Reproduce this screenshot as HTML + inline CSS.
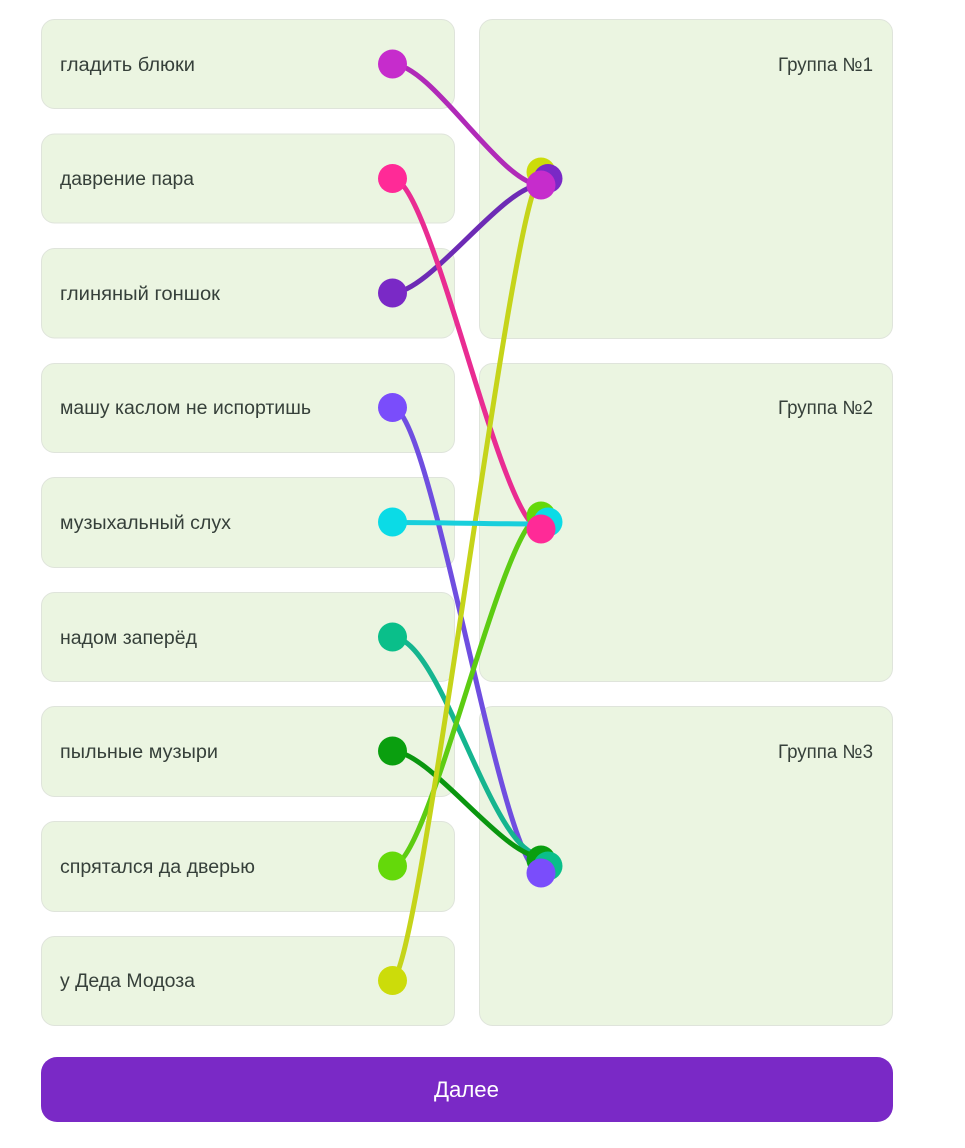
<!DOCTYPE html>
<html>
<head>
<meta charset="utf-8">
<style>
html,body{margin:0;padding:0;background:#fff}
svg{display:block}
text{font-family:"Liberation Sans",sans-serif;font-size:19px;fill:#36403a}
.b{fill:#ebf5e1;stroke:#dfe4db;stroke-width:1}
.l{fill:none;stroke-width:5}
</style>
</head>
<body>
<svg width="965" height="1148" viewBox="0 0 965 1148" xmlns="http://www.w3.org/2000/svg">
<rect class="b" x="41.500" y="19.500" width="413" height="89" rx="13"/>
<rect class="b" x="41.500" y="134" width="413" height="89" rx="13"/>
<rect class="b" x="41.500" y="248.500" width="413" height="89.500" rx="13"/>
<rect class="b" x="41.500" y="363.500" width="413" height="89" rx="13"/>
<rect class="b" x="41.500" y="477.500" width="413" height="90" rx="13"/>
<rect class="b" x="41.500" y="592.500" width="413" height="89" rx="13"/>
<rect class="b" x="41.500" y="706.500" width="413" height="90" rx="13"/>
<rect class="b" x="41.500" y="821.500" width="413" height="90" rx="13"/>
<rect class="b" x="41.500" y="936.500" width="413" height="89" rx="13"/>
<rect class="b" x="479.500" y="19.500" width="413" height="319" rx="13"/>
<rect class="b" x="479.500" y="363.500" width="413" height="318" rx="13"/>
<rect class="b" x="479.500" y="706.500" width="413" height="319" rx="13"/>
<text x="60" y="71" textLength="135" lengthAdjust="spacingAndGlyphs">гладить блюки</text>
<text x="60" y="185" textLength="134" lengthAdjust="spacingAndGlyphs">даврение пара</text>
<text x="60" y="300" textLength="160" lengthAdjust="spacingAndGlyphs">глиняный гоншок</text>
<text x="60" y="414" textLength="251" lengthAdjust="spacingAndGlyphs">машу каслом не испортишь</text>
<text x="60" y="529" textLength="171" lengthAdjust="spacingAndGlyphs">музыхальный слух</text>
<text x="60" y="644" textLength="137" lengthAdjust="spacingAndGlyphs">надом заперёд</text>
<text x="60" y="758" textLength="158" lengthAdjust="spacingAndGlyphs">пыльные музыри</text>
<text x="60" y="873" textLength="195" lengthAdjust="spacingAndGlyphs">спрятался да дверью</text>
<text x="60" y="987" textLength="135" lengthAdjust="spacingAndGlyphs">у Деда Модоза</text>
<text x="778" y="71" textLength="95" lengthAdjust="spacingAndGlyphs">Группа №1</text>
<text x="778" y="414" textLength="95" lengthAdjust="spacingAndGlyphs">Группа №2</text>
<text x="778" y="758" textLength="95" lengthAdjust="spacingAndGlyphs">Группа №3</text>
<path class="l" stroke="#6f4ee0" d="M392 407C432 407 501 873 541 873"/>
<path class="l" stroke="#15b58f" d="M392 637C442 637 491 855 541 855"/>
<path class="l" stroke="#0a960f" d="M392 751C430 751 503 857 541 857"/>
<path class="l" stroke="#5dcc12" d="M392 866C430 866 503 516 541 516"/>
<path class="l" stroke="#6d2bb5" d="M392 293C430 293 503 185 541 185"/>
<path class="l" stroke="#e92c92" d="M392 178C432 178 501 529 541 529"/>
<path class="l" stroke="#b02ab8" d="M392 64C432 64 501 185 541 185"/>
<path class="l" stroke="#c5d41a" d="M392 980C420 980 513 178 541 178"/>
<path class="l" stroke="#18cfdc" d="M392 522.500C442 522.500 491 524 541 524"/>
<circle cx="392.500" cy="64" r="14.500" fill="#c62ccc"/>
<circle cx="392.500" cy="178.500" r="14.500" fill="#ff2a97"/>
<circle cx="392.500" cy="293" r="14.500" fill="#7a29c6"/>
<circle cx="392.500" cy="407.500" r="14.500" fill="#7a4dfb"/>
<circle cx="392.500" cy="522" r="14.500" fill="#0bdbe6"/>
<circle cx="392.500" cy="637" r="14.500" fill="#0abf8a"/>
<circle cx="392.500" cy="751" r="14.500" fill="#0a9f0f"/>
<circle cx="392.500" cy="866" r="14.500" fill="#64d90a"/>
<circle cx="392.500" cy="980.500" r="14.500" fill="#ccdc0a"/>
<circle cx="541" cy="172" r="14.500" fill="#ccdc0a"/>
<circle cx="548" cy="178.500" r="14.500" fill="#7a29c6"/>
<circle cx="541" cy="185" r="14.500" fill="#c62ccc"/>
<circle cx="541" cy="516" r="14.500" fill="#64d90a"/>
<circle cx="548" cy="522" r="14.500" fill="#0bdbe6"/>
<circle cx="541" cy="529" r="14.500" fill="#ff2a97"/>
<circle cx="541" cy="860" r="14.500" fill="#0a9f0f"/>
<circle cx="548" cy="866" r="14.500" fill="#0abf8a"/>
<circle cx="541" cy="873" r="14.500" fill="#7a4dfb"/>
<rect x="41" y="1057" width="852" height="65" rx="16" fill="#7a29c6"/>
<text x="434" y="1097" textLength="65" lengthAdjust="spacingAndGlyphs" style="fill:#fff;font-size:22px">Далее</text>
</svg>
</body>
</html>
